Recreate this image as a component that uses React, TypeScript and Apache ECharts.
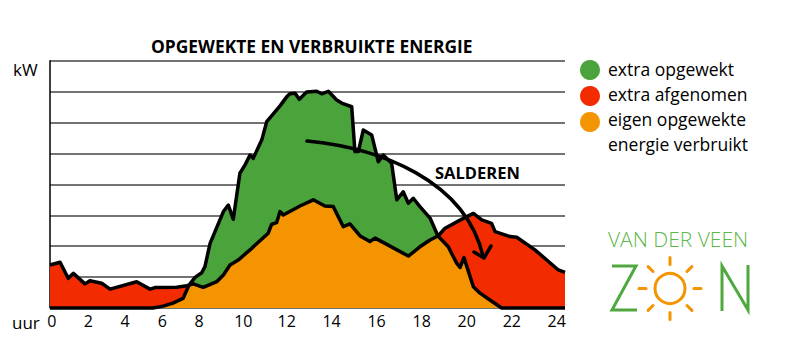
import React, { useEffect, useRef } from "react";
import * as echarts from "echarts";

// Production (opgewekt) curve, kW, x in hours across the plot frame
const prodHours = [0, 4.8, 5.27, 5.73, 6.2, 6.48, 6.76, 7.07, 7.22, 7.46, 7.69, 8.08, 8.31, 8.54, 8.85, 9.09, 9.32, 9.47, 9.87, 10.1, 10.72, 11.03, 11.18, 11.42, 11.62, 11.96, 12.43, 12.66, 12.97, 13.36, 13.59, 14.06, 14.21, 14.37, 14.6, 14.99, 15.3, 15.53, 15.92, 16.16, 16.46, 16.7, 16.93, 17.24, 17.71, 18.08, 18.56, 18.95, 19.11, 19.29, 19.73, 20.04, 20.5, 21.05, 24];
const prodKW = [0, 0, 0.06, 0.16, 0.31, 0.74, 0.99, 1.14, 1.34, 2.09, 2.47, 3.12, 3.33, 2.87, 4.36, 4.63, 4.95, 4.84, 5.44, 6.03, 6.54, 6.83, 6.93, 6.95, 6.75, 6.99, 7.01, 6.93, 7.01, 6.73, 6.63, 6.51, 5.06, 5.06, 5.76, 5.6, 4.73, 4.95, 4.68, 3.5, 3.76, 3.39, 3.55, 3.28, 2.91, 2.33, 1.98, 1.45, 1.31, 1.63, 0.69, 0.48, 0.26, 0, 0];

// Consumption (verbruikt) curve, kW
const consHours = [0, 0.47, 0.85, 1.09, 1.63, 1.86, 2.41, 2.8, 4.04, 4.66, 4.89, 5.9, 6.37, 6.48, 6.68, 7.14, 7.77, 8.08, 8.39, 8.77, 9.4, 10.17, 10.33, 10.56, 10.72, 10.87, 11.65, 12.27, 12.81, 13.2, 13.67, 13.98, 14.45, 14.91, 15.15, 15.61, 16.7, 17.24, 17.71, 18.08, 18.41, 19.26, 19.73, 20.12, 20.58, 20.74, 21.44, 21.75, 22.6, 23.69, 24];
const consKW = [1.39, 1.48, 0.96, 1.12, 0.78, 0.88, 0.8, 0.61, 0.85, 0.61, 0.66, 0.67, 0.72, 0.74, 0.78, 0.67, 0.85, 1.07, 1.39, 1.55, 1.93, 2.42, 2.71, 2.76, 3.12, 3.01, 3.3, 3.5, 3.3, 3.28, 2.63, 2.72, 2.33, 2.15, 2.26, 2.09, 1.68, 1.98, 2.2, 2.33, 2.58, 2.9, 3.06, 2.85, 2.74, 2.47, 2.31, 2.29, 1.88, 1.23, 1.15];

// Hours where the two curves cross
const crossMorning = 6.48;
const crossEvening = 18.08;

// Tick labels of the hour axis, and where they sit on it
const tickLabels = ["0", "2", "4", "6", "8", "10", "12", "14", "16", "18", "20", "22", "24"];
const tickLabelAt = [0.08, 1.79, 3.5, 5.23, 6.95, 9.01, 11.03, 13.12, 15.22, 17.32, 19.42, 21.52, 23.61];

const legendNames = ["extra opgewekt", "extra afgenomen", "eigen opgewekte", "energie verbruikt"];

const GREEN = "#4ba33b";
const RED = "#f22b00";
const ORANGE = "#f39400";

export default function App() {
  const ref = useRef<HTMLDivElement>(null);
  useEffect(() => {
    if (!ref.current) return;
    document.body.style.margin = "0";
    const chart = echarts.init(ref.current, undefined, { renderer: "svg" });
    const prod = prodHours.map((h, i) => [h, prodKW[i]]);
    const cons = consHours.map((h, i) => [h, consKW[i]]);
    const own = [
      ...prod.filter((p) => p[0] <= crossMorning),
      ...cons.filter((p) => p[0] > crossMorning && p[0] < crossEvening),
      ...prod.filter((p) => p[0] >= crossEvening),
    ];
    const areaBase = {
      type: "line",
      symbol: "none",
      showSymbol: false,
      lineStyle: { width: 0 },
      silent: true,
    };
    const font = "Open Sans";
    const sunCx = 670, sunCy = 288.5;
    const rays: any[] = [];
    for (let k = 0; k < 8; k++) {
      const a = (k * Math.PI) / 4;
      rays.push({
        type: "line",
        z: 100,
        shape: {
          x1: sunCx + Math.cos(a) * 24,
          y1: sunCy + Math.sin(a) * 24,
          x2: sunCx + Math.cos(a) * 31,
          y2: sunCy + Math.sin(a) * 31,
        },
        style: { stroke: ORANGE, lineWidth: 3, lineCap: "round" },
      });
    }
    const txt = (x: number, y: number, text: string, f: string, fill = "#000") => ({
      type: "text",
      z: 100,
      x,
      y,
      style: { text, font: f, fill, textVerticalAlign: "middle" },
    });
    chart.setOption({
      animation: false,
      title: {
        text: "OPGEWEKTE EN VERBRUIKTE ENERGIE",
        left: 146,
        top: 32,
        textStyle: { fontFamily: font, fontWeight: "bold", fontSize: 17.4, color: "#000" },
      },
      grid: { left: 50, right: 235, top: 60.7, bottom: 53 },
      xAxis: {
        type: "value",
        min: 0,
        max: 24,
        axisLine: { show: false },
        axisTick: { show: false },
        splitLine: { show: false },
        axisLabel: {
          customValues: tickLabelAt,
          formatter: (v: number) => tickLabels[tickLabelAt.indexOf(v)] ?? "",
          fontFamily: font,
          fontSize: 16,
          color: "#000",
          margin: 5,
        },
      },
      yAxis: {
        type: "value",
        min: 0,
        max: 8,
        interval: 1,
        axisLine: { show: true, lineStyle: { color: "#000", width: 1.5 } },
        axisTick: { show: false },
        axisLabel: { show: false },
        splitLine: { show: true, lineStyle: { color: "#444", width: 1.5 } },
      },
      series: [
        { ...areaBase, name: "extra afgenomen", data: cons, areaStyle: { color: RED, opacity: 1 } },
        { ...areaBase, name: "extra opgewekt", data: prod, areaStyle: { color: GREEN, opacity: 1 } },
        { ...areaBase, name: "eigen opgewekte energie verbruikt", data: own, areaStyle: { color: ORANGE, opacity: 1 } },
        { type: "line", name: "verbruik", data: cons, symbol: "none", clip: false, lineStyle: { color: "#000", width: 3.5, join: "round" } },
        { type: "line", name: "opwek", data: prod, symbol: "none", clip: false, lineStyle: { color: "#000", width: 3.5, join: "round" } },
      ],
      graphic: [
        txt(13, 69, "kW", `17px "${font}"`),
        txt(12, 322, "uur", `17px "${font}"`),
        txt(435, 172, "SALDEREN", `bold 16.5px "${font}"`),
        {
          type: "bezierCurve",
          z: 100,
          shape: { x1: 307, y1: 141, cpx1: 380, cpy1: 148, cpx2: 465, cpy2: 180, x2: 483, y2: 256 },
          style: { stroke: "#000", lineWidth: 3.5, fill: "none", lineCap: "round" },
        },
        {
          type: "polyline",
          z: 100,
          shape: { points: [[474, 252], [484, 258], [491, 246]] },
          style: { stroke: "#000", lineWidth: 3.5, fill: "none", lineCap: "round", lineJoin: "round" },
        },
        // legend
        { type: "circle", z: 100, shape: { cx: 590, cy: 70, r: 10 }, style: { fill: GREEN } },
        { type: "circle", z: 100, shape: { cx: 590, cy: 96, r: 10 }, style: { fill: RED } },
        { type: "circle", z: 100, shape: { cx: 590, cy: 122, r: 10 }, style: { fill: ORANGE } },
        txt(608, 69, legendNames[0], `17.5px "${font}"`),
        txt(608, 94, legendNames[1], `17.5px "${font}"`),
        txt(608, 119, legendNames[2], `17.5px "${font}"`),
        txt(608, 144, legendNames[3], `17.5px "${font}"`),
        // logo
        txt(608, 239, "VAN DER VEEN", `300 21px "${font}"`, "#5cb84a"),
        {
          type: "polyline",
          z: 100,
          shape: { points: [[612, 266], [636, 266], [612, 310], [637, 310]] },
          style: { stroke: "#4ea83e", lineWidth: 3, fill: "none" },
        },
        {
          type: "polyline",
          z: 100,
          shape: { points: [[722, 311], [722, 266], [748, 310], [748, 265]] },
          style: { stroke: "#4ea83e", lineWidth: 3, fill: "none" },
        },
        { type: "circle", z: 100, shape: { cx: sunCx, cy: sunCy, r: 15 }, style: { fill: "none", stroke: ORANGE, lineWidth: 3 } },
        ...rays,
      ],
    });
    return () => chart.dispose();
  }, []);
  return <div ref={ref} style={{ width: 800, height: 361 }} />;
}
